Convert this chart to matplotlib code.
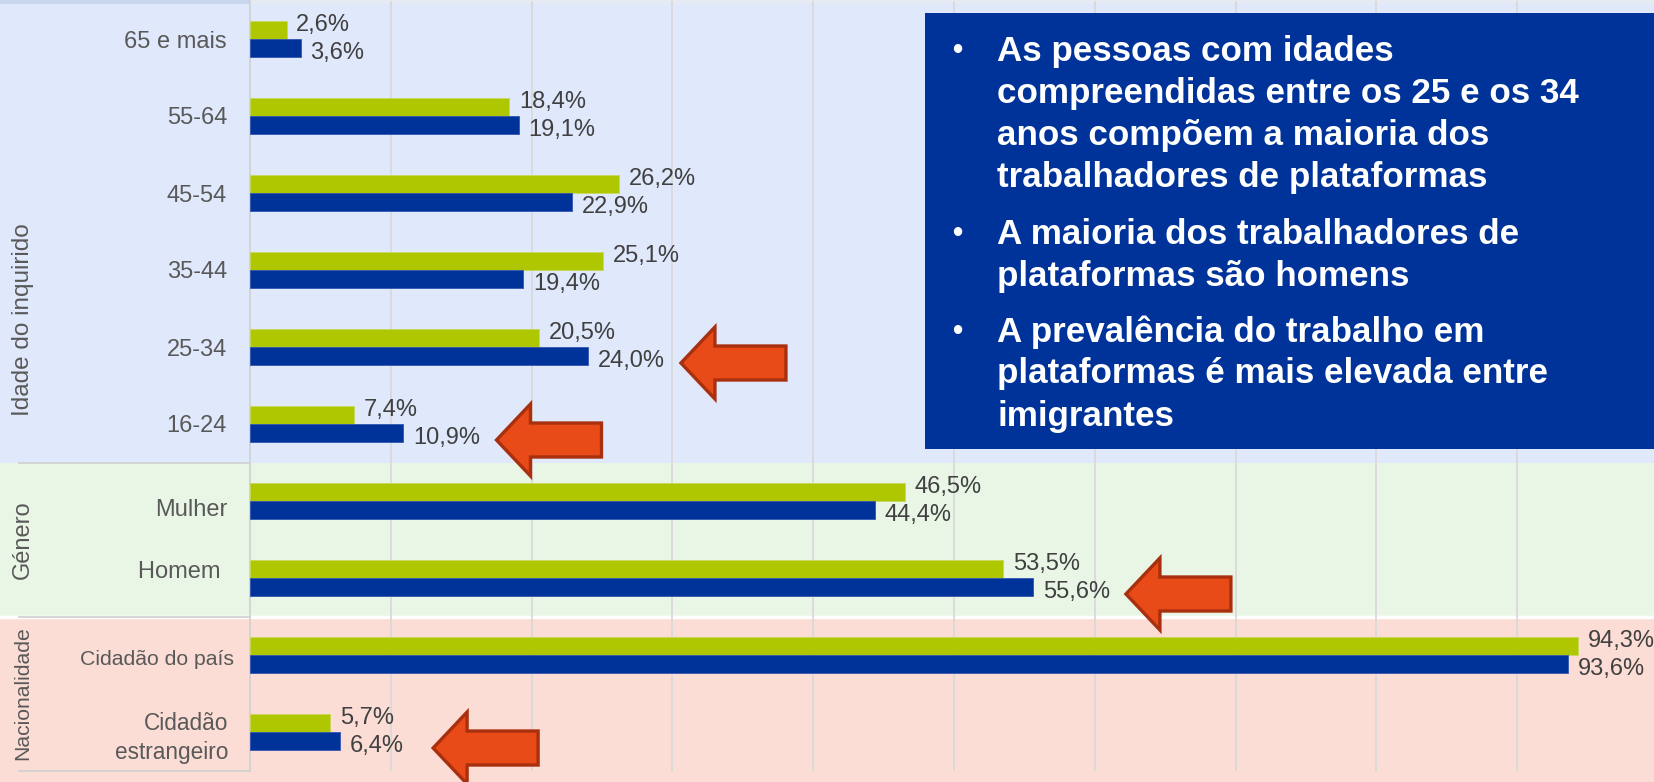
import matplotlib
matplotlib.use("Agg")
import matplotlib.pyplot as plt
import matplotlib.transforms as mtransforms
from matplotlib.patches import Rectangle, Polygon
from matplotlib.lines import Line2D
import numpy as np

# ---------------- data ----------------
categories = ["65 e mais", "55-64", "45-54", "35-44", "25-34", "16-24",
              "Mulher", "Homem ", "Cidadão do país", "Cidadão\nestrangeiro"]
series_green = [2.6, 18.4, 26.2, 25.1, 20.5, 7.4, 46.5, 53.5, 94.3, 5.7]
series_blue = [3.6, 19.1, 22.9, 19.4, 24.0, 10.9, 44.4, 55.6, 93.6, 6.4]
groups = ["Idade do inquirido", "Género", "Nacionalidade"]
group_first = [0, 6, 8]
group_last = [5, 7, 9]
highlighted = ["25-34", "16-24", "Homem ", "Cidadão\nestrangeiro"]
bullets = [
    ["As pessoas com idades",
     "compreendidas entre os 25 e os 34",
     "anos compõem a maioria dos",
     "trabalhadores de plataformas"],
    ["A maioria dos trabalhadores de",
     "plataformas são homens"],
    ["A prevalência do trabalho em",
     "plataformas é mais elevada entre",
     "imigrantes"],
]

# ---------------- style ----------------
plt.rcParams['font.family'] = ['Liberation Sans', 'DejaVu Sans']
GREEN = '#AFC700'
BLUE = '#00339A'
BAND_COLORS = ['#E0E8FB', '#E9F6E6', '#FBDDD5']
TXT = '#404040'
LAB = '#595959'

W, H = 1654, 782
fig = plt.figure(figsize=(W / 100, H / 100), dpi=100)
fig.patch.set_facecolor('white')


def fx(px):
    return px / W


def fy(py):
    return 1 - py / H


ax = fig.add_axes([fx(250), fy(770.5), fx(1656) - fx(250), 770 / H])
ax.patch.set_alpha(0)
n = len(categories)
rows = np.arange(n)
ax.set_ylim(n - 0.5, -0.5)
ax.set_xlim(0, 99.85)

blend = mtransforms.blended_transform_factory(fig.transFigure, ax.transData)

# background bands
for gi, (g0, g1) in enumerate(zip(group_first, group_last)):
    top = g0 - 0.5 if gi > 0 else -1.0
    bot = g1 + 0.5 if gi < len(groups) - 1 else n + 0.5
    fig.add_artist(Rectangle((0, top), 1, bot - top, transform=blend,
                             facecolor=BAND_COLORS[gi], edgecolor='none', zorder=-20))
# top strip
fig.add_artist(Rectangle((0, fy(4)), fx(250), 4 / H, transform=fig.transFigure,
                         facecolor='#C9D4EE', edgecolor='none', zorder=-19))
fig.add_artist(Rectangle((fx(250), fy(4)), 1, 4 / H, transform=fig.transFigure,
                         facecolor='#E6EAF3', edgecolor='none', zorder=-19))

# separators
yb = group_first[2] - 0.5
fig.add_artist(Line2D([0, 1], [yb, yb], transform=blend, color='white',
                      lw=2.5, zorder=-15))
for yb in [group_first[1] - 0.5, group_first[2] - 0.5, n - 0.5]:
    fig.add_artist(Line2D([fx(19), fx(250)], [yb, yb], transform=blend,
                          color='#D2D2D2', lw=1.3, zorder=-14))

# grid
ax.set_xticks(np.arange(10, 100, 10))
ax.grid(axis='x', color='#D9D9D9', lw=1.3, zorder=0)
ax.set_axisbelow(True)
ax.tick_params(axis='x', length=0, labelbottom=False)
ax.set_yticks([])
for s in ['top', 'right', 'bottom']:
    ax.spines[s].set_visible(False)
ax.spines['left'].set_color('#D2D2D2')
ax.spines['left'].set_linewidth(1.3)

# bars
bh = 0.234
off = bh / 2
ax.barh(rows - off, series_green, height=bh, color=GREEN, edgecolor='#C8D85A',
        linewidth=0.6, zorder=3)
ax.barh(rows + off, series_blue, height=bh, color=BLUE, edgecolor='#3355B0',
        linewidth=0.6, zorder=3)


def fmt(v):
    return f"{v:.1f}%".replace('.', ',')


for r, g, b in zip(rows, series_green, series_blue):
    ax.annotate(fmt(g), xy=(g, r - off), xytext=(7, 3.5), textcoords='offset points',
                ha='left', va='center', fontsize=17, color=TXT, zorder=4)
    ax.annotate(fmt(b), xy=(b, r + off), xytext=(7, -3.5), textcoords='offset points',
                ha='left', va='center', fontsize=17, color=TXT, zorder=4)

# category labels
for r, cat in zip(rows, categories):
    fs, pad, ls, dy, va = 17, 16.5, 1.2, 0, 'center_baseline'
    if cat == "Mulher":
        dy = -5
    if cat == "Homem ":
        dy = 6
    if cat == "Cidadão do país":
        fs, pad, dy = 15.3, 11.5, -2
    if "\n" in cat:
        fs, pad, ls, dy, va = 16.3, 15.5, 1.36, -4.5, 'center'
    ax.annotate(cat, xy=(0, r), xycoords=('axes fraction', 'data'),
                xytext=(-pad, dy), textcoords='offset points', ha='right',
                va=va, fontsize=fs, color=LAB, linespacing=ls,
                annotation_clip=False)

# group labels
group_y = [3.64, 6.5, 8.5]
group_fs = [17.5, 17, 15.2]
gtrans = mtransforms.blended_transform_factory(fig.transFigure, ax.transData)
for gname, gy, fs in zip(groups, group_y, group_fs):
    fig.text(fx(23), gy, gname, transform=gtrans, rotation=90, ha='center',
             va='center', fontsize=fs, color=LAB)

# arrows
shape = np.array([[0, 0], [34, 36], [34, 17], [105, 17], [105, -17],
                  [34, -17], [34, -36]], dtype=float)
for cat in highlighted:
    i = categories.index(cat)
    v = series_blue[i]
    tr = mtransforms.Affine2D().translate(93, -7) + \
        mtransforms.ScaledTranslation(v, i + off, ax.transData)
    poly = Polygon(shape, closed=True, transform=tr, facecolor='#E84A18',
                   edgecolor='#A8300F', linewidth=2.4, zorder=10)
    fig.add_artist(poly)

# text box
fig.add_artist(Rectangle((fx(925), fy(449)), 1, (449 - 13) / H, transform=fig.transFigure,
                         facecolor='#003399', edgecolor='none', zorder=8))
para_start = [51, 234, 332]
pitch = 42
for para, y0 in zip(bullets, para_start):
    fig.text(fx(952), fy(y0), "•", ha='left', va='center', fontsize=21,
             color='white', weight='bold', zorder=9)
    for k, line in enumerate(para):
        fig.text(fx(997), fy(y0 + k * pitch), line, ha='left', va='center',
                 fontsize=25.2, color='white', weight='bold', zorder=9)

fig.savefig("out.png", dpi=100)
